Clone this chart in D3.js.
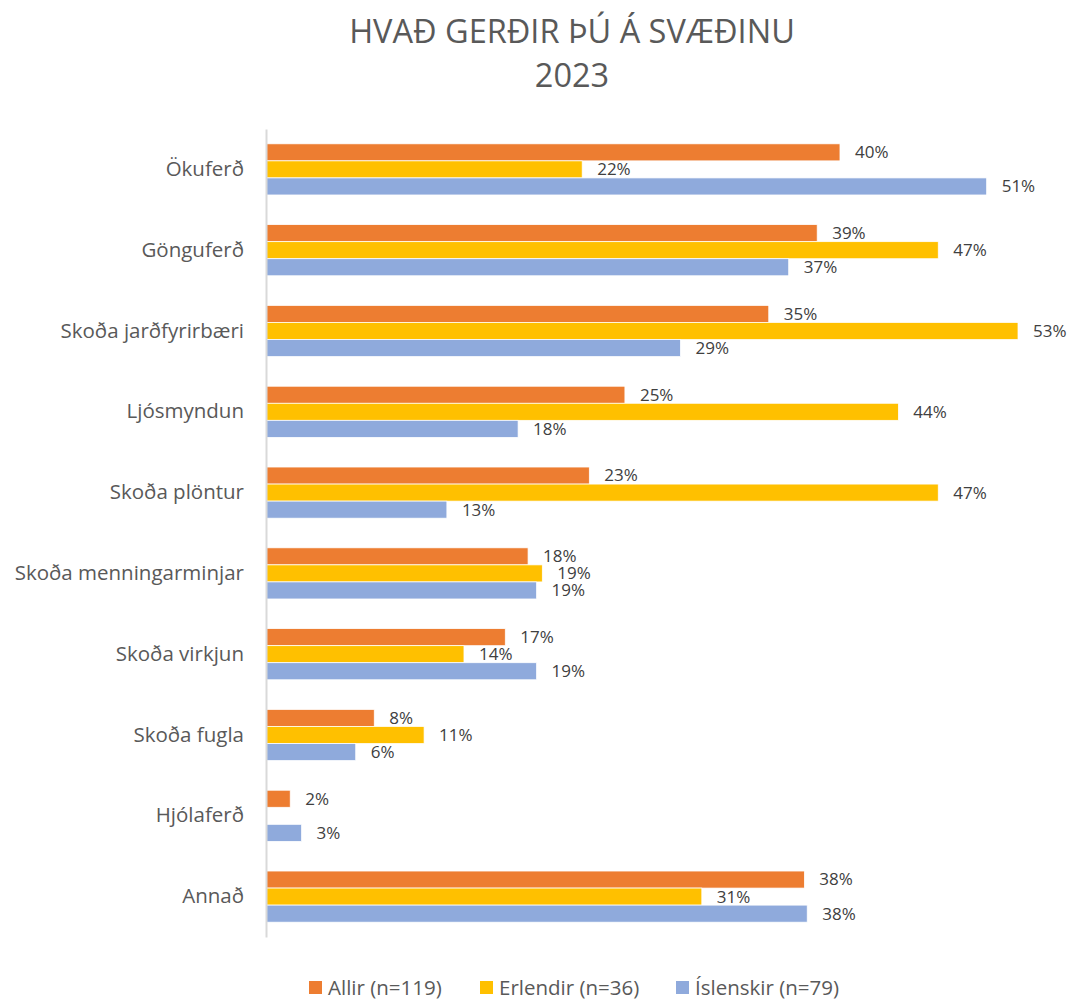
<!DOCTYPE html>
<html>
<head>
<meta charset="utf-8">
<script src="https://cdn.jsdelivr.net/npm/d3@7"></script>
<style>
  body { margin: 0; background: #fff; }
  text { font-family: "Open Sans", sans-serif; }
</style>
</head>
<body>
<script>
const categories = ['Ökuferð', 'Gönguferð', 'Skoða jarðfyrirbæri', 'Ljósmyndun', 'Skoða plöntur',
  'Skoða menningarminjar', 'Skoða virkjun', 'Skoða fugla', 'Hjólaferð', 'Annað'];
const seriesNames = ['Allir (n=119)', 'Erlendir (n=36)', 'Íslenskir (n=79)'];
const seriesColors = ['#ed7d31', '#ffc000', '#8faadc'];
// percentages (labels show them rounded)
const allir     = [40.3, 38.7, 35.3, 25.2, 22.7, 18.4, 16.8, 7.6, 1.7, 37.8];
const erlendir  = [22.2, 47.2, 52.8, 44.4, 47.2, 19.4, 13.9, 11.1, 0, 30.6];
const islenskir = [50.6, 36.7, 29.1, 17.7, 12.7, 19.0, 19.0, 6.3, 2.5, 38.0];
const seriesValues = [allir, erlendir, islenskir];

const WIDTH = 1075, HEIGHT = 1001;
const MARGIN = { top: 129, right: 57, bottom: 64, left: 266 };

const svg = d3.select('body').append('svg')
  .attr('width', WIDTH)
  .attr('height', HEIGHT);

// title
const title = svg.append('text')
  .attr('text-anchor', 'middle')
  .style('font-size', '32.5px')
  .style('fill', '#595959');
title.append('tspan').attr('x', 572).attr('y', 43).text('HVAÐ GERÐIR ÞÚ Á SVÆÐINU');
title.append('tspan').attr('x', 572).attr('y', 87).text('2023');

const x = d3.scaleLinear()
  .domain([0, 52.8])
  .range([MARGIN.left, MARGIN.left + 752]);

const y = d3.scaleBand()
  .domain(categories)
  .range([MARGIN.top, HEIGHT - MARGIN.bottom]);

const inner = d3.scaleBand()
  .domain(d3.range(seriesNames.length))
  .range([0, y.bandwidth()])
  .paddingOuter(0.87);

const rows = categories.map((c, i) => ({
  cat: c,
  vals: seriesValues.map((s, k) => ({ k, v: s[i] }))
}));

const g = svg.append('g');

const grp = g.selectAll('.grp')
  .data(rows)
  .enter().append('g')
    .attr('class', 'grp')
    .attr('transform', (d) => `translate(0, ${y(d.cat)})`);

grp.selectAll('rect')
  .data((d) => d.vals.filter((e) => e.v > 0))
  .enter().append('rect')
    .attr('x', x(0))
    .attr('y', (d) => inner(d.k))
    .attr('width', (d) => x(d.v) - x(0))
    .attr('height', inner.bandwidth())
    .attr('fill', (d) => seriesColors[d.k])
    .attr('stroke', '#fff')
    .attr('stroke-width', 0.75);

grp.selectAll('.lbl')
  .data((d) => d.vals.filter((e) => e.v > 0))
  .enter().append('text')
    .attr('class', 'lbl')
    .attr('x', (d) => x(d.v) + 15)
    .attr('y', (d) => inner(d.k) + inner.bandwidth() / 2)
    .attr('dy', '.35em')
    .style('font-size', '17px')
    .style('fill', '#404040')
    .text((d) => Math.round(d.v) + '%');

// category axis
const yAxis = g.append('g')
  .attr('transform', `translate(${MARGIN.left}, 0)`)
  .call(d3.axisLeft(y).tickSize(0).tickPadding(22));
yAxis.select('.domain').attr('stroke', '#d9d9d9').attr('stroke-width', 2);
yAxis.selectAll('text')
  .style('font-size', '20.5px')
  .style('fill', '#595959')
  .style('font-family', '"Open Sans", sans-serif');

// legend
const legendX = [309, 480, 676];
const legend = svg.selectAll('.legend')
  .data(seriesNames)
  .enter().append('g')
    .attr('class', 'legend')
    .attr('transform', (d, i) => `translate(${legendX[i]}, 981)`);
legend.append('rect')
  .attr('width', 13)
  .attr('height', 13)
  .attr('fill', (d, i) => seriesColors[i]);
legend.append('text')
  .attr('x', 19)
  .attr('y', 7)
  .attr('dy', '.35em')
  .style('font-size', '20.5px')
  .style('fill', '#595959')
  .text((d) => d);
</script>
</body>
</html>
